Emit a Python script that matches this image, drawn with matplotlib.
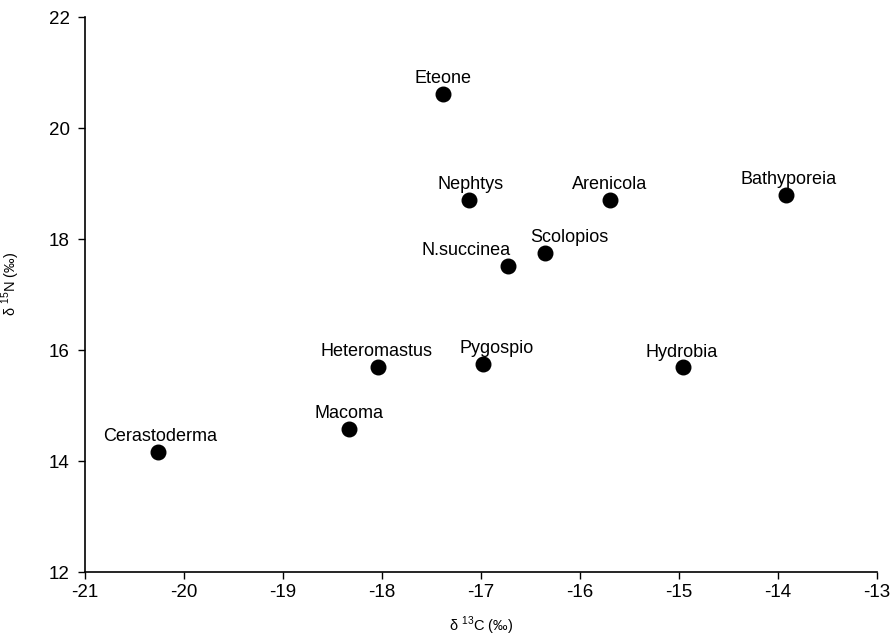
import matplotlib
matplotlib.use("Agg")
from matplotlib import pyplot as plt

plt.rcParams['font.family'] = ['Liberation Sans', 'DejaVu Sans']
plt.rcParams['axes.unicode_minus'] = False
plt.rcParams['mathtext.fontset'] = 'custom'
plt.rcParams['mathtext.rm'] = 'Liberation Sans'

# ---------- data ----------
species = ['Eteone', 'Nephtys', 'Arenicola', 'Bathyporeia', 'N.succinea', 'Scolopios',
           'Heteromastus', 'Pygospio', 'Hydrobia', 'Macoma', 'Cerastoderma']
d13C = [-17.38, -17.12, -15.70, -13.92, -16.73, -16.35, -18.04, -16.98, -14.96, -18.33, -20.26]
d15N = [20.62, 18.71, 18.70, 18.80, 17.52, 17.75, 15.70, 15.75, 15.69, 14.59, 14.16]
# label shift left/right of the dot (points)
label_dx = [0, 1, 0, 2, -30, 17, -1, 10, -1, 0, 1]

fig = plt.figure(figsize=(8.9, 6.38), dpi=100)
ax = fig.add_axes([0.0955, 0.103, 0.89, 0.870])

ax.scatter(d13C, d15N, s=110, color='black', zorder=3)
for name, x, y, dx in zip(species, d13C, d15N, label_dx):
    ax.annotate(name, (x, y), xytext=(dx, 5), textcoords='offset points',
                ha='center', va='bottom', fontsize=13)

ax.set_xlim(-21, -13)
ax.set_ylim(12, 22)
ax.set_xticks(range(-21, -12))
ax.set_yticks(range(12, 23, 2))
ax.tick_params(labelsize=13.5, length=5, width=1, direction='out')
ax.tick_params(axis='y', pad=6)
for s in ['top', 'right']:
    ax.spines[s].set_visible(False)
for s in ['left', 'bottom']:
    ax.spines[s].set_linewidth(1.2)

ax.set_xlabel(r'δ $^{13}$C (‰)', fontsize=10.5, labelpad=10)
ax.set_ylabel(r'δ $^{15}$N (‰)', fontsize=10.5)
ax.yaxis.set_label_coords(-0.079, 0.52)

plt.savefig('out.png', dpi=100)
